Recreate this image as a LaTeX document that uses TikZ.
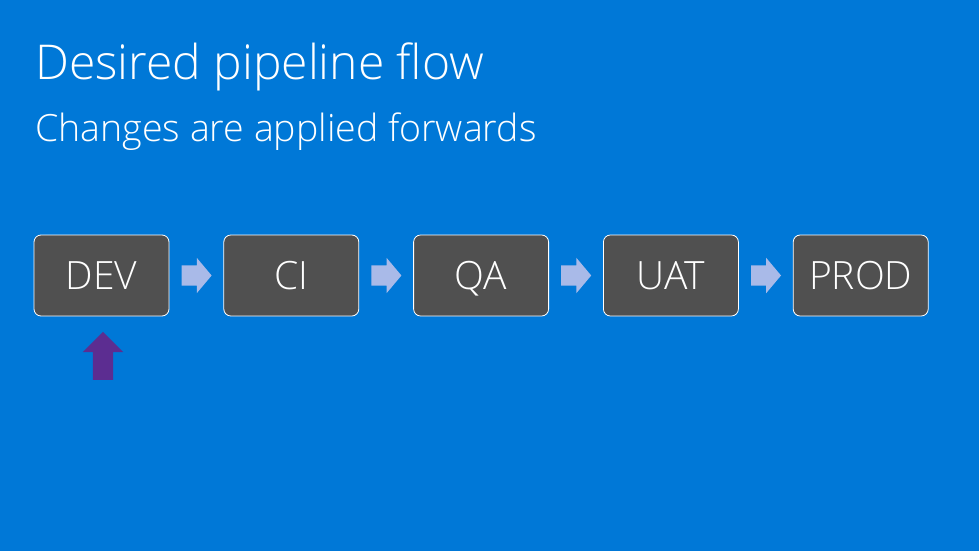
\documentclass[tikz,border=0pt]{standalone}
\usepackage{fontspec}
\setmainfont{Open Sans}[UprightFont = * Light]
\usetikzlibrary{positioning,shapes.arrows}

\definecolor{slideblue}{HTML}{0078D7}
\definecolor{stagegray}{HTML}{505050}
\definecolor{flowlav}{HTML}{A9BAE8}
\definecolor{devpurple}{HTML}{5C2D91}

\tikzset{
    stage/.style={draw=white, line width=0.8pt, fill=stagegray, rounded corners=7pt,
        minimum width=135pt, minimum height=81pt, text=white, text height=28pt, text depth=0pt,
        font=\fontsize{39}{39}\selectfont},
    flowarrow/.style={single arrow, fill=flowlav, inner xsep=0pt, inner ysep=10pt, minimum height=30pt,
        minimum width=35pt, single arrow head extend=7.5pt, single arrow tip angle=100},
    pusharrow/.style={single arrow, fill=devpurple, inner xsep=0pt, inner ysep=10pt, minimum height=48pt,
        minimum width=40pt, single arrow head extend=10pt, single arrow tip angle=90, rotate=90}
}

\begin{document}
\begin{tikzpicture}[x=1pt, y=-1pt]
        \fill [slideblue] (0,0) rectangle (979,551);
        \useasboundingbox (0,0) rectangle (979,551);
        \node [anchor=base west, inner sep=0pt, text=white, font=\fontsize{48}{48}\selectfont] (title) at (35,79) {Desired pipeline flow};
        \node [anchor=base west, inner sep=0pt, text=white, font=\fontsize{37.5}{37.5}\selectfont] (subtitle) at (35,141) {Changes are applied forwards};
        \node [stage] (dev) at (101.5,275.5) {DEV};
        \node [flowarrow, right=12pt of dev] (a1) {};
        \node [stage, right=54pt of dev] (ci) {CI};
        \node [flowarrow, right=12pt of ci] (a2) {};
        \node [stage, right=54pt of ci] (qa) {QA};
        \node [flowarrow, right=12pt of qa] (a3) {};
        \node [stage, right=54pt of qa] (uat) {UAT};
        \node [flowarrow, right=12pt of uat] (a4) {};
        \node [stage, right=54pt of uat] (prod) {PROD};
        \node [pusharrow] (push) at (103,361) {};
    \end{tikzpicture}
\end{document}
